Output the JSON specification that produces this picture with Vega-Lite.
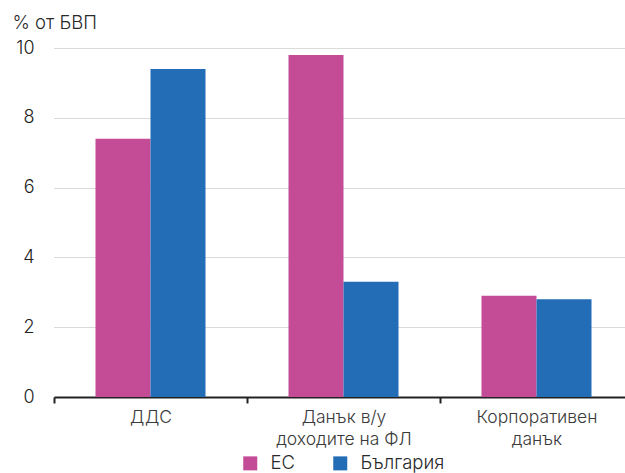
{
  "$schema": "https://vega.github.io/schema/vega-lite/v6.json",
  "autosize": {"type": "none"},
  "width": 571,
  "height": 349,
  "padding": {"left": 54, "top": 48, "right": 0, "bottom": 76},
  "background": "white",
  "config": {
    "font": "Inter",
    "view": {"stroke": null}
  },
  "data": {
    "values": [
      {"category": "ДДС", "series": "ЕС", "value": 7.4},
      {"category": "ДДС", "series": "България", "value": 9.4},
      {"category": "Данък в/у|доходите на ФЛ", "series": "ЕС", "value": 9.8},
      {"category": "Данък в/у|доходите на ФЛ", "series": "България", "value": 3.3},
      {"category": "Корпоративен|данък", "series": "ЕС", "value": 2.9},
      {"category": "Корпоративен|данък", "series": "България", "value": 2.8}
    ]
  },
  "mark": {"type": "bar"},
  "encoding": {
    "x": {
      "field": "category",
      "type": "nominal",
      "sort": null,
      "scale": {"range": [0, 579], "paddingInner": 0, "paddingOuter": 0},
      "axis": {
        "title": null,
        "labelAngle": 0,
        "labelExpr": "split(datum.label, '|')",
        "labelFontSize": 17.5,
        "labelFontWeight": 300,
        "labelColor": "#3a3a3a",
        "labelPadding": 5,
        "labelLineHeight": 22,
        "labelBaseline": "top",
        "tickBand": "extent",
        "tickSize": 6,
        "tickWidth": 2,
        "tickColor": "#222222",
        "domainColor": "#222222",
        "domainWidth": 2
      }
    },
    "xOffset": {
      "field": "series",
      "type": "nominal",
      "sort": ["ЕС", "България"],
      "scale": {"paddingInner": 0, "paddingOuter": 0.7545}
    },
    "y": {
      "field": "value",
      "type": "quantitative",
      "scale": {"domain": [0, 10], "nice": false},
      "axis": {
        "values": [0, 2, 4, 6, 8, 10],
        "title": "% от БВП",
        "titleAngle": 0,
        "titleAlign": "left",
        "titleBaseline": "top",
        "titleX": -42,
        "titleY": -35,
        "titleFontSize": 18.5,
        "titleFontWeight": 300,
        "titleColor": "#2a2a2a",
        "domain": false,
        "ticks": false,
        "labelFontSize": 18,
        "labelFontWeight": 300,
        "labelColor": "#222222",
        "labelPadding": 20,
        "gridDash": [1, 1],
        "gridColor": "#b5b5b5",
        "gridWidth": 1
      }
    },
    "color": {
      "field": "series",
      "type": "nominal",
      "sort": ["ЕС", "България"],
      "scale": {"domain": ["ЕС", "България"], "range": ["#c44b95", "#236db6"]},
      "legend": {
        "title": null,
        "orient": "none",
        "direction": "horizontal",
        "legendX": 187,
        "legendY": 406,
        "symbolType": "square",
        "symbolSize": 196,
        "symbolStrokeWidth": 0,
        "labelFontSize": 18.5,
        "labelFontWeight": 300,
        "labelColor": "#2a2a2a",
        "labelOffset": 11,
        "columnPadding": 36
      }
    }
  }
}
